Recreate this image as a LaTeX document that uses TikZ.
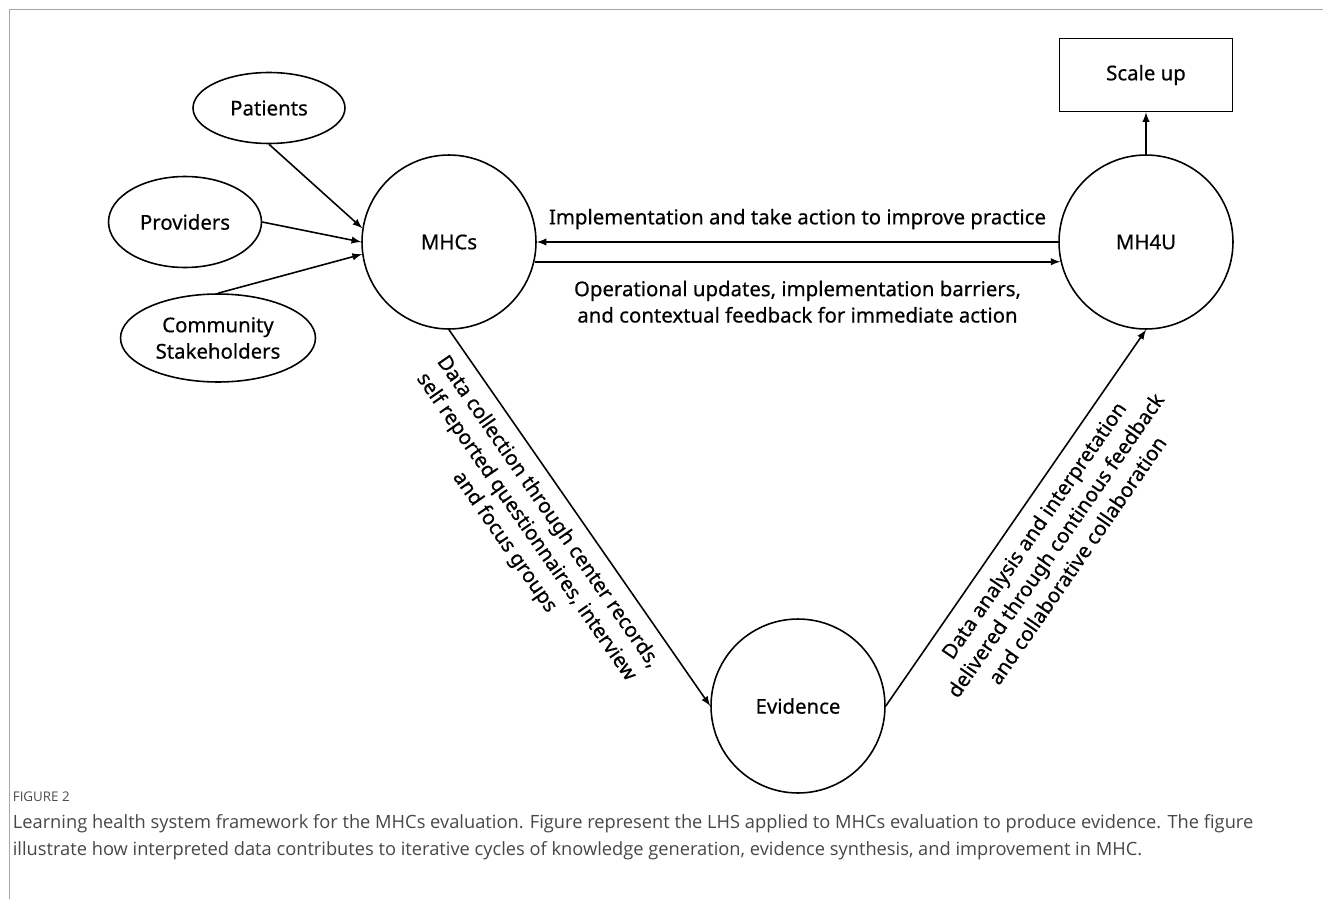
\documentclass[tikz,border=0pt]{standalone}
\usepackage{fontspec}
\setmainfont{Noto Sans}
\newfontfamily\diafont[FakeBold=0.5]{Noto Sans}
\newfontfamily\capfont{Open Sans}
\usetikzlibrary{shapes.geometric}

\begin{document}
\begin{tikzpicture}[x=0.02cm,y=-0.02cm,
  bubble/.style={draw=black,line width=0.9pt,circle,minimum size=3.48cm,inner sep=0pt},
  oval/.style={draw=black,line width=0.9pt,ellipse,inner sep=0pt,align=center},
  txt/.style={font=\diafont\fontsize{11.6}{15}\selectfont,align=center}]

\useasboundingbox (0,0) rectangle (1323,899);
\path[draw=black!35] (9,899) -- (9,9) -- (1323,9);

%stakeholders
\node[oval,txt,minimum width=3.04cm,minimum height=1.42cm] (pat) at (269,108) {Patients};
\node[oval,txt,minimum width=3.06cm,minimum height=1.82cm] (prov) at (185,222) {Providers};
\node[oval,txt,minimum width=3.9cm,minimum height=1.76cm] (comm) at (218,338) {Community\\Stakeholders};

%cycle
\node[bubble,txt] (mhc) at (449,242) {MHCs};
\node[bubble,txt] (mh4u) at (1146,242) {MH4U};
\node[bubble,txt] (evid) at (798,706) {Evidence};
\node[draw=black,line width=0.9pt,txt,minimum width=3.46cm,minimum height=1.46cm] (scale) at (1146,75) {Scale up};

\path[draw=black,-latex,line width=0.9pt] (pat.south) -- (mhc.171);
\path[draw=black,-latex,line width=0.9pt] (prov.east) -- (mhc.180);
\path[draw=black,-latex,line width=0.9pt] (comm.north) -- (mhc.188);

\path[draw=black,-latex,line width=0.9pt] (mh4u.west) -- (mhc.east)
  node[midway,above=3.5pt,txt] {Implementation and take action to improve practice};
\path[draw=black,-latex,line width=0.9pt] (mhc.-13) -- (mh4u.193)
  node[midway,below=7pt,txt] {Operational updates, implementation barriers,\\and contextual feedback for immediate action};

\path[draw=black,-latex,line width=0.9pt] (mhc.south) -- (evid.west)
  node[pos=0.45,sloped,below=3.5pt,txt] {Data collection through center records,\\self reported questionnaires, interview\\and focus groups};
\path[draw=black,-latex,line width=0.9pt] (evid.east) -- (mh4u.south)
  node[pos=0.5,sloped,below=4pt,txt] {Data analysis and interpretation\\delivered through continous feedback\\and collaborative collaboration};

\path[draw=black,-latex,line width=0.9pt] (mh4u.north) -- (scale.south);

%caption
\node[anchor=west,inner sep=2pt,text=black!70,font=\capfont\fontsize{7.6}{9}\selectfont] (fig) at (9,797) {FIGURE 2};
\node[anchor=north west,inner sep=2pt,text=black!72,align=left,font=\capfont\fontsize{10.4}{15.3}\selectfont] (cap) at (9,811)
  {Learning health system framework for the MHCs evaluation. Figure represent the LHS applied to MHCs evaluation to produce evidence. The figure\\
   illustrate how interpreted data contributes to iterative cycles of knowledge generation, evidence synthesis, and improvement in MHC.};

\end{tikzpicture}
\end{document}
